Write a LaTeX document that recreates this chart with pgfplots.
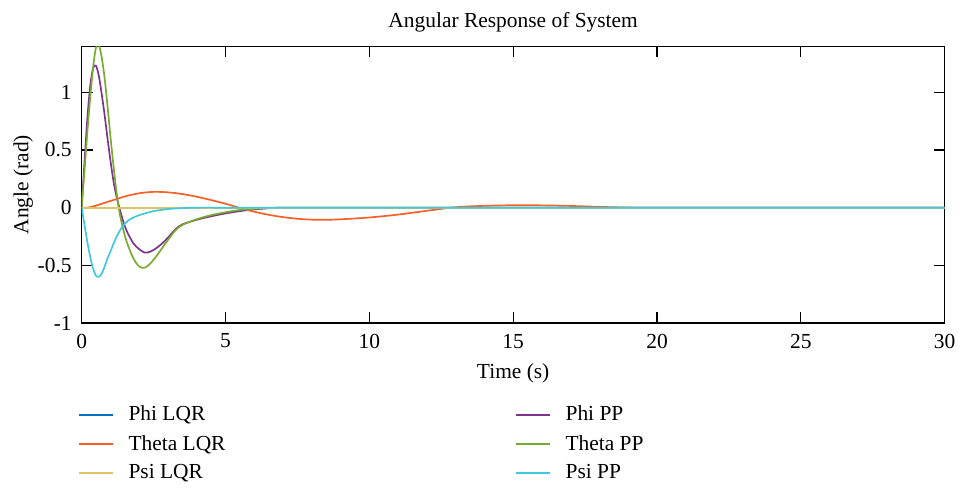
\documentclass[border={3.5pt 2pt 0.5pt 3pt}]{standalone}
\usepackage{pgfplots}
\pgfplotsset{compat=1.18}
\usepackage{fontspec}
\setmainfont{Liberation Serif}

\definecolor{lqrblue}{RGB}{0,114,189}
\definecolor{lqrorange}{RGB}{248,96,40}
\definecolor{lqryellow}{RGB}{222,196,104}
\definecolor{pppurple}{RGB}{126,52,142}
\definecolor{ppgreen}{RGB}{119,172,48}
\definecolor{ppcyan}{RGB}{64,200,222}

\newcommand{\fs}{\fontsize{10.8}{12.5}\selectfont}

\begin{document}
\begin{tikzpicture}
\begin{axis}[
    scale only axis,
    width=435pt, height=139.5pt,
    xmin=0, xmax=30, ymin=-1, ymax=1.4,
    xtick={0,5,10,15,20,25,30},
    ytick={-1,-0.5,0,0.5,1},
    tick align=inside,
    major tick length=5.5pt,
    axis line style={line width=0.6pt},
    every tick/.style={black, line width=0.6pt},
    /pgf/number format/assume math mode=true,
    tick label style={font=\fs},
    xticklabel style={yshift=-2pt},
    yticklabel style={xshift=-1.5pt},
    title={Angular Response of System},
    title style={font=\fs, yshift=-2.5pt},
    xlabel={Time (s)},
    ylabel={Angle (rad)},
    label style={font=\fs},
    xlabel style={yshift=-1pt},
    ylabel style={yshift=-4.5pt},
    clip=true,
    legend columns=2,
    legend cell align=left,
    legend style={
        at={(0,-0.27)}, anchor=north west, xshift=-2pt,
        inner xsep=0pt,
        draw=none, font=\fs, row sep=1.8pt,
        /tikz/every odd column/.append style={column sep=5.5pt},
        /tikz/every even column/.append style={column sep=144pt}
    },
]

\addplot[draw=lqrblue, line width=0.85pt, smooth] coordinates {(0,0) (10,0) (20,0) (30,0)};
\addlegendentry{Phi LQR}

\addplot[draw=pppurple, line width=0.85pt, smooth] coordinates {
    (0,0) (0.1,0.40) (0.2,0.78) (0.3,1.06) (0.4,1.21) (0.5,1.23)
    (0.6,1.14) (0.7,0.98) (0.8,0.80) (0.9,0.60) (1.0,0.41) (1.1,0.24)
    (1.2,0.11) (1.3,0.01) (1.4,-0.08) (1.5,-0.16) (1.6,-0.22) (1.8,-0.31)
    (2.0,-0.36) (2.2,-0.39) (2.4,-0.38) (2.6,-0.35) (2.8,-0.31) (3.0,-0.26)
    (3.25,-0.19) (3.5,-0.145) (4.0,-0.105) (4.5,-0.075) (5.0,-0.05)
    (5.5,-0.03) (6.0,-0.015) (6.5,-0.005) (7,0) (8,0) (10,0) (15,0) (20,0)
    (25,0) (30,0)
};
\addlegendentry{Phi PP}

\addplot[draw=lqrorange, line width=0.85pt, smooth] coordinates {
    (0,0) (0.25,0.002) (0.5,0.018) (1.0,0.058) (1.5,0.097) (2.0,0.125)
    (2.5,0.137) (3.0,0.133) (3.5,0.118) (4.0,0.095) (4.5,0.066) (5.0,0.034)
    (5.5,-0.002) (6.0,-0.035) (6.5,-0.062) (7.0,-0.082)
    (7.5,-0.096) (8.0,-0.104) (8.5,-0.105) (9.0,-0.101) (10.0,-0.085)
    (11.0,-0.060) (12.0,-0.027) (13.0,0.004) (14.0,0.016)
    (15.0,0.021) (16.0,0.020) (17.0,0.015) (18.0,0.007)
    (19.0,0.001) (20,0) (22,0) (25,0) (30,0)
};
\addlegendentry{Theta LQR}

\addplot[draw=ppgreen, line width=0.85pt, smooth] coordinates {
    (0,0) (0.1,0.32) (0.2,0.66) (0.3,0.96) (0.4,1.22) (0.5,1.39)
    (0.6,1.41) (0.7,1.30) (0.8,1.12) (0.9,0.88) (1.0,0.62) (1.1,0.38)
    (1.2,0.16) (1.3,-0.02) (1.4,-0.14) (1.5,-0.24) (1.6,-0.32) (1.8,-0.44)
    (2.0,-0.51) (2.2,-0.52) (2.4,-0.48) (2.6,-0.42) (2.8,-0.35) (3.0,-0.28)
    (3.25,-0.20) (3.5,-0.15) (4.0,-0.10) (4.5,-0.065) (5.0,-0.04) (5.5,-0.02)
    (6.0,-0.01) (6.5,-0.003) (7,0) (8,0) (10,0) (15,0) (20,0) (25,0) (30,0)
};
\addlegendentry{Theta PP}

\addplot[draw=lqryellow, line width=0.85pt, smooth] coordinates {(0,0) (10,0) (20,0) (30,0)};
\addlegendentry{Psi LQR}

\addplot[draw=ppcyan, line width=0.85pt, smooth] coordinates {
    (0,0) (0.1,-0.15) (0.2,-0.30) (0.3,-0.43) (0.4,-0.53) (0.5,-0.59)
    (0.6,-0.60) (0.7,-0.57) (0.8,-0.51) (0.9,-0.44) (1.0,-0.38) (1.2,-0.26)
    (1.4,-0.17) (1.6,-0.115) (1.8,-0.085) (2.0,-0.065) (2.2,-0.05)
    (2.5,-0.03) (3.0,-0.012) (3.5,-0.004) (4,0) (5,0) (7,0) (10,0) (15,0)
    (20,0) (25,0) (30,0)
};
\addlegendentry{Psi PP}

\end{axis}
\end{tikzpicture}
\end{document}
